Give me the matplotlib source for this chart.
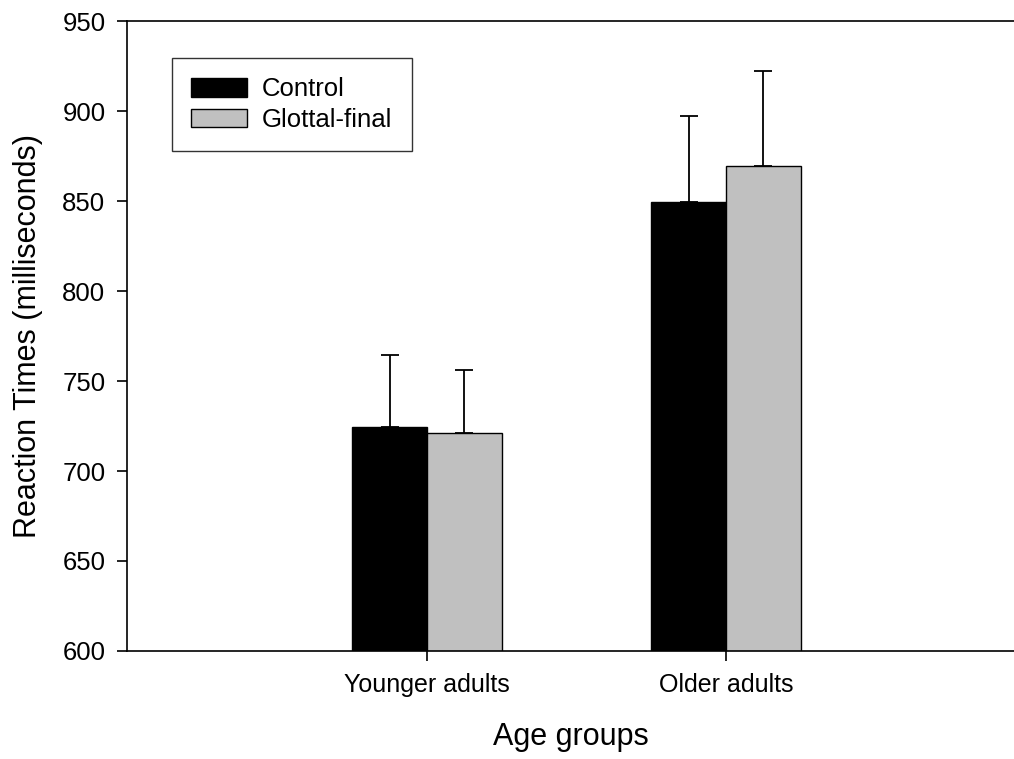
import matplotlib.pyplot as plt
import numpy as np

groups = ['Younger adults', 'Older adults']
control = [724.5, 849.5]
control_err = [40, 48]
glottal = [721, 869.5]
glottal_err = [35, 53]

plt.rcParams['font.family'] = ['Liberation Sans', 'DejaVu Sans']

fig = plt.figure(figsize=(10.14, 7.59), dpi=100)
ax = fig.add_axes([0.1252, 0.1423, 0.8748, 0.830])

x = np.arange(1, len(groups) + 1)
w = 0.25
err_kw = dict(elinewidth=1.3, capsize=6.5, capthick=1.3, ecolor='black')
ax.bar(x - w / 2, control, w, yerr=[np.zeros(2), control_err], color='black',
       edgecolor='black', linewidth=1, label='Control', error_kw=err_kw)
ax.bar(x + w / 2, glottal, w, yerr=[np.zeros(2), glottal_err], color='#c0c0c0',
       edgecolor='black', linewidth=1, label='Glottal-final', error_kw=err_kw)

ax.set_ylim(600, 950)
ax.set_xlim(-0.0033, 2.963)
ax.set_yticks(np.arange(600, 951, 50))
ax.set_xticks(x)
ax.set_xticklabels(groups)
ax.spines['right'].set_visible(False)
for s in ['left', 'bottom', 'top']:
    ax.spines[s].set_linewidth(1.2)
ax.tick_params(axis='y', direction='out', length=7.5, width=1.2, labelsize=18.5, pad=8)
ax.tick_params(axis='x', direction='out', length=7.5, width=1.2, labelsize=18, pad=8)

ax.set_ylabel('Reaction Times (milliseconds)', fontsize=22, labelpad=14)
ax.set_xlabel('Age groups', fontsize=22, labelpad=18)

leg = ax.legend(loc='upper left', bbox_to_anchor=(0.051, 0.941), fontsize=18.5,
                frameon=True, fancybox=False, edgecolor='black', borderpad=0.75,
                handlelength=2.15, handleheight=0.75, handletextpad=0.6,
                labelspacing=0.25, borderaxespad=0)
leg.get_frame().set_linewidth(1.0)

plt.savefig('out.png', dpi=100)
